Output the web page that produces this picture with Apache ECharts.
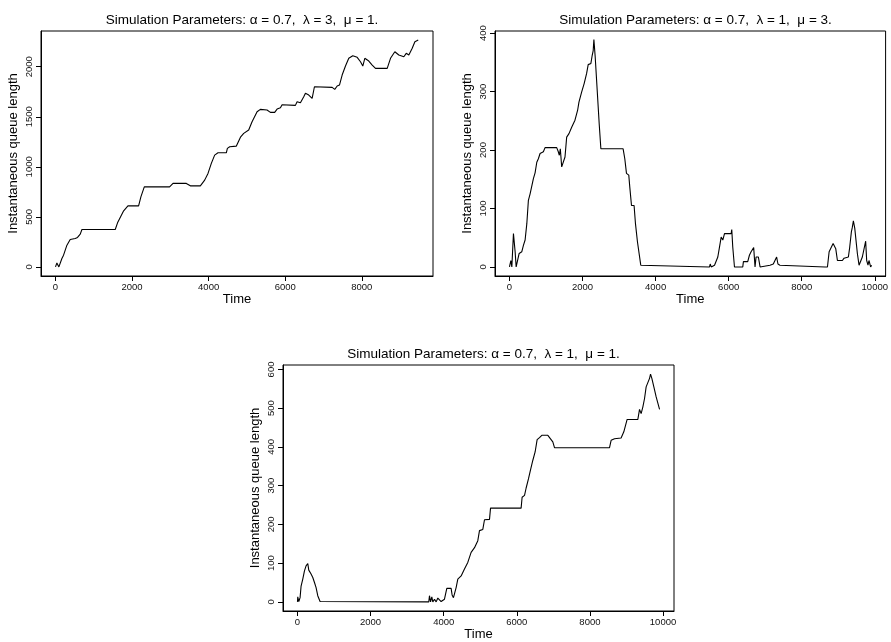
<!DOCTYPE html>
<html>
<head>
<meta charset="utf-8">
<script src="https://cdn.jsdelivr.net/npm/echarts@6/dist/echarts.min.js"></script>
<style>
  html, body { margin: 0; padding: 0; background: #fff; }
  #chart { width: 891px; height: 642px; }
</style>
</head>
<body>
<div id="chart"></div>
<script>
// alpha = 0.7, lambda = 3, mu = 1
var timeA = [0, 36, 88, 123, 167, 210, 254, 298, 384, 515, 575, 646, 690, 1560, 1620, 1700, 1780, 1892, 2170, 2230,
  2319, 2980, 3069, 3417, 3521, 3783, 3805, 3896, 3983, 4070, 4157, 4244, 4462, 4489, 4550, 4724, 4837, 4916, 5046, 5134,
  5265, 5351, 5525, 5613, 5725, 5788, 5875, 5918, 6266, 6310, 6397, 6484, 6528, 6615, 6703, 6763, 7226, 7294, 7357, 7417,
  7487, 7574, 7660, 7765, 7880, 7966, 8026, 8079, 8183, 8272, 8358, 8664, 8750, 8863, 8967, 9098, 9161, 9229, 9317, 9387, 9474]
var queueA = [0, 40, 0, 17, 84, 117, 167, 217, 274, 284, 294, 327, 374, 374, 440, 500, 560, 610, 610, 700,
  800, 800, 834, 834, 810, 810, 800, 867, 934, 1034, 1117, 1140, 1140, 1184, 1200, 1207, 1300, 1334, 1367, 1450,
  1550, 1574, 1567, 1544, 1544, 1577, 1590, 1620, 1614, 1650, 1640, 1700, 1734, 1717, 1684, 1800, 1794, 1774, 1807, 1817,
  1917, 2007, 2084, 2110, 2094, 2050, 2007, 2084, 2057, 2017, 1984, 1984, 2084, 2150, 2117, 2100, 2134, 2117, 2184, 2250, 2267]

// alpha = 0.7, lambda = 1, mu = 3
var timeB = [0, 38, 65, 109, 155, 183, 229, 265, 338, 382, 428, 475, 518, 565, 611, 655, 701, 748, 791, 838,
  928, 974, 1293, 1337, 1365, 1392, 1430, 1474, 1520, 1566, 1629, 1703, 1793, 1866, 1902, 1975, 2046, 2112, 2155, 2229,
  2265, 2292, 2311, 2347, 2412, 2456, 2502, 3111, 3157, 3203, 3266, 3293, 3340, 3411, 3449, 3503, 3547, 3594, 3612, 5476,
  5495, 5523, 5613, 5650, 5703, 5749, 5795, 5840, 5886, 6068, 6085, 6112, 6159, 6386, 6404, 6522, 6568, 6614, 6685, 6722,
  6750, 6813, 6860, 7131, 7176, 7222, 7249, 7313, 7349, 7404, 7431, 8640, 8659, 8704, 8750, 8795, 8859, 8886, 8932, 8977,
  9113, 9159, 9277, 9314, 9359, 9386, 9414, 9452, 9477, 9523, 9569, 9614, 9659, 9705, 9750, 9778, 9814, 9841, 9886, 9914]
var queueB = [0, 11, 0, 57, 26, 0, 0, 23, 26, 37, 46, 74, 114, 125, 128, 151, 161, 179, 185, 194,
  197, 204, 204, 197, 191, 202, 171, 171, 188, 222, 228, 239, 251, 268, 282, 299, 314, 331, 346, 348,
  362, 370, 389, 359, 291, 245, 202, 202, 185, 160, 157, 137, 105, 105, 74, 43, 40, 3, 0, 0,
  5, 0, 3, 0, 17, 34, 51, 46, 57, 57, 64, 34, 0, 0, 9, 9, 20, 26, 33, 0,
  17, 17, 0, 3, 5, 5, 7, 17, 5, 3, 0, 0, 3, 0, 26, 26, 40, 43, 31, 11,
  11, 15, 17, 34, 60, 68, 79, 66, 68, 23, 3, 6, 17, 19, 44, 11, 3, 11, 0, 3]

// alpha = 0.7, lambda = 1, mu = 1
var timeC = [0, 8, 36, 71, 99, 145, 191, 235, 282, 309, 345, 372, 419, 465, 509, 555, 618, 645, 3592, 3611,
  3640, 3675, 3702, 3748, 3794, 3839, 3930, 4021, 4066, 4085, 4203, 4230, 4267, 4294, 4340, 4386, 4477, 4568, 4659, 4750,
  4843, 4933, 4979, 5070, 5116, 5253, 5281, 6118, 6145, 6211, 6255, 6320, 6375, 6437, 6501, 6556, 6621, 6684, 6849, 6922,
  6985, 7031, 8536, 8580, 8673, 8853, 8927, 9018, 9311, 9357, 9401, 9447, 9494, 9538, 9585, 9631, 9658, 9694, 9749, 9812, 9905]
var queueC = [0, 13, 1, 11, 41, 59, 80, 93, 99, 82, 87, 72, 63, 50, 37, 16, 1, 0, 0, 16,
  0, 13, 0, 7, 0, 10, 1, 7, 11, 35, 35, 18, 11, 7, 37, 59, 67, 85, 102, 128,
  140, 158, 184, 187, 212, 213, 242, 242, 270, 275, 294, 318, 341, 365, 387, 419, 424, 430, 430, 421,
  413, 398, 398, 417, 421, 423, 439, 471, 471, 497, 486, 503, 525, 555, 551, 577, 588, 577, 555, 529, 497]

var ticksXA = [0, 2000, 4000, 6000, 8000]
var ticksXB = [0, 2000, 4000, 6000, 8000, 10000]
var ticksYA = [0, 500, 1000, 1500, 2000]
var ticksYB = [0, 100, 200, 300, 400]
var ticksYC = [0, 100, 200, 300, 400, 500, 600]

var titles = [
  'Simulation Parameters: \u03b1 = 0.7,  \u03bb = 3,  \u03bc = 1.',
  'Simulation Parameters: \u03b1 = 0.7,  \u03bb = 1,  \u03bc = 3.',
  'Simulation Parameters: \u03b1 = 0.7,  \u03bb = 1,  \u03bc = 1.'
]

var FONT = '"Liberation Sans", Arial, Helvetica, sans-serif'

// layout of the three panels (plot box in px, axis ranges with R's 4% padding)
var panels = [
  { t: timeA, q: queueA, xt: ticksXA, yt: ticksYA, box: [41, 31, 392, 245], xr: [-379, 9860], yr: [-91, 2357], titleTop: 8 },
  { t: timeB, q: queueB, xt: ticksXB, yt: ticksYB, box: [495, 31, 391, 245], xr: [-396, 10296], yr: [-15.5, 403.5], titleTop: 8 },
  { t: timeC, q: queueC, xt: ticksXB, yt: ticksYC, box: [283, 365, 391, 246], xr: [-396, 10300], yr: [-23.5, 611.5], titleTop: 342 }
]

var chart = echarts.init(document.getElementById('chart'), null, { renderer: 'canvas' })

function plain(v) { return String(v) }

var grids = [], xAxes = [], yAxes = [], series = [], titleList = []
panels.forEach(function (p, i) {
  grids.push({
    left: p.box[0], top: p.box[1], width: p.box[2], height: p.box[3],
    show: true, borderColor: '#000', borderWidth: 1, containLabel: false
  })
  titleList.push({
    text: titles[i],
    left: p.box[0] + p.box[2] / 2, top: p.titleTop, textAlign: 'center',
    textStyle: { fontSize: 13.5, fontWeight: 'normal', color: '#000', fontFamily: FONT }
  })
  xAxes.push({
    gridIndex: i, type: 'value', min: p.xr[0], max: p.xr[1],
    name: 'Time', nameLocation: 'middle', nameGap: 17,
    nameTextStyle: { fontSize: 13, color: '#000', fontFamily: FONT },
    axisLine: { show: true, onZero: false, lineStyle: { color: '#000', width: 1 } },
    axisTick: { show: true, length: 5, customValues: p.xt, lineStyle: { color: '#000' } },
    axisLabel: { customValues: p.xt, formatter: plain, fontSize: 9.5, margin: 6, color: '#111', fontFamily: FONT },
    splitLine: { show: false }
  })
  yAxes.push({
    gridIndex: i, type: 'value', min: p.yr[0], max: p.yr[1],
    name: 'Instantaneous queue length', nameLocation: 'middle', nameGap: 21,
    nameTextStyle: { fontSize: 13, color: '#000', fontFamily: FONT },
    axisLine: { show: true, onZero: false, lineStyle: { color: '#000', width: 1 } },
    axisTick: { show: true, length: 5, customValues: p.yt, lineStyle: { color: '#000' } },
    axisLabel: { customValues: p.yt, formatter: plain, rotate: 90, fontSize: 9.5, margin: 7, color: '#111', fontFamily: FONT },
    splitLine: { show: false }
  })
  series.push({
    type: 'line', xAxisIndex: i, yAxisIndex: i,
    data: p.t.map(function (x, k) { return [x, p.q[k]] }),
    showSymbol: false, symbol: 'none',
    lineStyle: { color: '#000', width: 1.1 },
    silent: true
  })
})

chart.setOption({
  backgroundColor: '#fff',
  animation: false,
  title: titleList,
  grid: grids,
  xAxis: xAxes,
  yAxis: yAxes,
  series: series
})
</script>
</body>
</html>
